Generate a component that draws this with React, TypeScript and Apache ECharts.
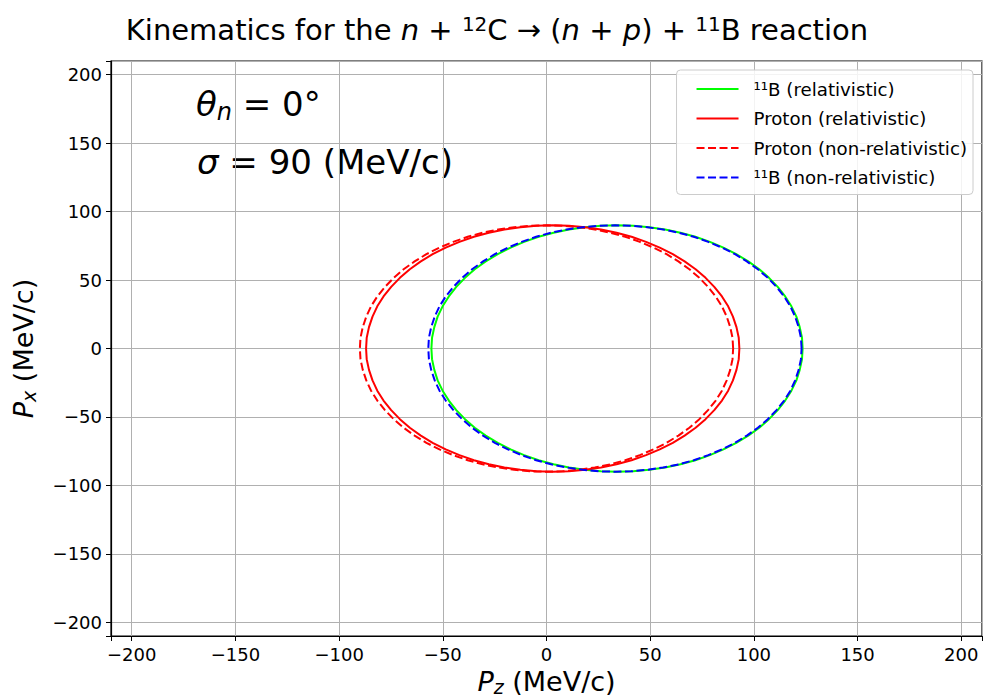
import React, { useEffect, useRef } from "react";
import * as echarts from "echarts";

// Points of each curve, every 5 degrees around the ring,
// starting at the right-most point and going counter-clockwise.
const pxRing = [
  0, 7.8, 15.6, 23.3, 30.8, 38.0, 45, 51.6, 57.9, 63.6, 68.9, 73.7, 77.9, 81.6, 84.6, 86.9, 88.6, 89.7, 90,
  89.7, 88.6, 86.9, 84.6, 81.6, 77.9, 73.7, 68.9, 63.6, 57.9, 51.6, 45, 38.0, 30.8, 23.3, 15.6, 7.8, 0,
  -7.8, -15.6, -23.3, -30.8, -38.0, -45, -51.6, -57.9, -63.6, -68.9, -73.7, -77.9, -81.6, -84.6, -86.9, -88.6, -89.7, -90,
  -89.7, -88.6, -86.9, -84.6, -81.6, -77.9, -73.7, -68.9, -63.6, -57.9, -51.6, -45, -38.0, -30.8, -23.3, -15.6, -7.8, 0,
];
const pzBoronRel = [
  123.5, 123.2, 122.1, 120.5, 118.1, 115.1, 111.5, 107.3, 102.6, 97.3, 91.5, 85.3, 78.8, 71.8, 64.6, 57.2, 49.5, 41.8, 34,
  26.2, 18.5, 10.8, 3.4, -3.8, -10.8, -17.3, -23.5, -29.3, -34.6, -39.3, -43.5, -47.1, -50.1, -52.5, -54.1, -55.2, -55.5,
  -55.2, -54.1, -52.5, -50.1, -47.1, -43.5, -39.3, -34.6, -29.3, -23.5, -17.3, -10.8, -3.8, 3.4, 10.8, 18.5, 26.2, 34,
  41.8, 49.5, 57.2, 64.6, 71.8, 78.8, 85.3, 91.5, 97.3, 102.6, 107.3, 111.5, 115.1, 118.1, 120.5, 122.1, 123.2, 123.5,
];
const pzProtonRel = [
  93, 92.7, 91.6, 89.9, 87.6, 84.6, 80.9, 76.7, 71.9, 66.6, 60.9, 54.6, 48, 41.0, 33.8, 26.3, 18.6, 10.8, 3,
  -4.8, -12.6, -20.3, -27.8, -35.0, -42, -48.6, -54.9, -60.6, -65.9, -70.7, -74.9, -78.6, -81.6, -83.9, -85.6, -86.7, -87,
  -86.7, -85.6, -83.9, -81.6, -78.6, -74.9, -70.7, -65.9, -60.6, -54.9, -48.6, -42, -35.0, -27.8, -20.3, -12.6, -4.8, 3,
  10.8, 18.6, 26.3, 33.8, 41.0, 48, 54.6, 60.9, 66.6, 71.9, 76.7, 80.9, 84.6, 87.6, 89.9, 91.6, 92.7, 93,
];
const pzProtonNonRel = [
  90, 89.7, 88.6, 86.9, 84.6, 81.6, 77.9, 73.7, 68.9, 63.6, 57.9, 51.6, 45, 38.0, 30.8, 23.3, 15.6, 7.8, 0,
  -7.8, -15.6, -23.3, -30.8, -38.0, -45, -51.6, -57.9, -63.6, -68.9, -73.7, -77.9, -81.6, -84.6, -86.9, -88.6, -89.7, -90,
  -89.7, -88.6, -86.9, -84.6, -81.6, -77.9, -73.7, -68.9, -63.6, -57.9, -51.6, -45, -38.0, -30.8, -23.3, -15.6, -7.8, 0,
  7.8, 15.6, 23.3, 30.8, 38.0, 45, 51.6, 57.9, 63.6, 68.9, 73.7, 77.9, 81.6, 84.6, 86.9, 88.6, 89.7, 90,
];
const pzBoronNonRel = [
  123, 122.7, 121.6, 119.9, 117.6, 114.6, 110.9, 106.7, 101.9, 96.6, 90.9, 84.6, 78, 71.0, 63.8, 56.3, 48.6, 40.8, 33,
  25.2, 17.4, 9.7, 2.2, -5.0, -12, -18.6, -24.9, -30.6, -35.9, -40.7, -44.9, -48.6, -51.6, -53.9, -55.6, -56.7, -57,
  -56.7, -55.6, -53.9, -51.6, -48.6, -44.9, -40.7, -35.9, -30.6, -24.9, -18.6, -12, -5.0, 2.2, 9.7, 17.4, 25.2, 33,
  40.8, 48.6, 56.3, 63.8, 71.0, 78, 84.6, 90.9, 96.6, 101.9, 106.7, 110.9, 114.6, 117.6, 119.9, 121.6, 122.7, 123,
];

const seriesNames = [
  "¹¹B (relativistic)",
  "Proton (relativistic)",
  "Proton (non-relativistic)",
  "¹¹B (non-relativistic)",
];
const seriesPz = [pzBoronRel, pzProtonRel, pzProtonNonRel, pzBoronNonRel];
const seriesColors = ["#00ff00", "#ff0000", "#ff0000", "#0000ff"];
const seriesDashed = [false, false, true, true];

const axisMin = -210;
const axisMax = 210;
const tickStep = 50;

const FONT = "'DejaVu Sans', sans-serif";

const fmt = (v: number) => {
  if (Math.abs(v % tickStep) > 1e-6) return "";
  return v < 0 ? "\u2212" + Math.abs(v) : String(v);
};

const nameRich = {
  i: { fontSize: 27, fontStyle: "italic", fontFamily: FONT, color: "#000" },
  s: { fontSize: 19, fontStyle: "italic", fontFamily: FONT, color: "#000", padding: [10, 0, 0, 0] },
  r: { fontSize: 27, fontFamily: FONT, color: "#000" },
};

export default function App() {
  const ref = useRef<HTMLDivElement>(null);
  useEffect(() => {
    document.body.style.margin = "0";
    const chart = echarts.init(ref.current!, null, { renderer: "svg" });
    const axisCommon = {
      type: "value" as const,
      min: axisMin,
      max: axisMax,
      splitNumber: 8,
      minInterval: tickStep,
      maxInterval: tickStep,
      axisLine: { show: true, onZero: false, lineStyle: { color: "#000", width: 1.2 } },
      axisTick: { show: true, length: 5, lineStyle: { color: "#000", width: 1 } },
      axisLabel: {
        formatter: fmt,
        color: "#000",
        fontSize: 18,
        fontFamily: FONT,
        margin: 9,
      },
      splitLine: { show: true, lineStyle: { color: "#b0b0b0", width: 1 } },
    };
    chart.setOption({
      animation: false,
      backgroundColor: "#fff",
      grid: {
        left: 111,
        right: 1,
        top: 61,
        bottom: 64,
        show: true,
        borderColor: "#000",
        borderWidth: 1.2,
        backgroundColor: "transparent",
        containLabel: false,
        outerBoundsMode: "none",
      },
      xAxis: {
        ...axisCommon,
        name: "{i|P}{s|z}{r| (MeV/c)}",
        nameLocation: "middle",
        nameGap: 31,
        nameTextStyle: { fontSize: 27, fontFamily: FONT, color: "#000", rich: nameRich },
      },
      yAxis: {
        ...axisCommon,
        name: "{i|P}{s|x}{r| (MeV/c)}",
        nameLocation: "middle",
        nameGap: 73,
        nameRotate: 90,
        nameTextStyle: { fontSize: 27, fontFamily: FONT, color: "#000", rich: nameRich },
      },
      legend: {
        orient: "vertical",
        right: 10,
        top: 70,
        itemWidth: 42,
        itemHeight: 14,
        itemGap: 11.5,
        padding: [10, 6, 8, 19],
        backgroundColor: "rgba(255,255,255,0.85)",
        borderColor: "#cccccc",
        borderWidth: 1,
        borderRadius: 4,
        selectedMode: false,
        itemStyle: { opacity: 0, color: "transparent", borderWidth: 0 },
        textStyle: { fontSize: 18.2, lineHeight: 18, fontFamily: FONT, color: "#000", padding: [0, 0, 0, 10] },
        data: seriesNames,
      },
      graphic: [
        {
          type: "text",
          style: {
            text:
              "{r|Kinematics for the }{i|n}{r| + }{s|12}{r|C → (}{i|n}{r| + }{i|p}{r|) + }{s|11}{r|B reaction}",
            x: 497,
            y: 30,
            align: "center",
            verticalAlign: "middle",
            fontSize: 29,
            fontFamily: FONT,
            fill: "#000",
            rich: {
              r: { fontSize: 29, fontFamily: FONT, fill: "#000" },
              i: { fontSize: 29, fontFamily: FONT, fontStyle: "italic", fill: "#000" },
              s: { fontSize: 20, fontFamily: FONT, fill: "#000", padding: [0, 0, 13, 0] },
            },
          },
        },
        {
          type: "text",
          style: {
            text: "{t|θ}{s|n}{r| = 0°}",
            x: 196,
            y: 104,
            verticalAlign: "middle",
            fontSize: 34,
            fontFamily: FONT,
            fill: "#000",
            rich: {
              t: { fontSize: 34, fontFamily: FONT, fontStyle: "italic", fill: "#000" },
              s: { fontSize: 24, fontFamily: FONT, fontStyle: "italic", fill: "#000", padding: [16, 0, 0, 0] },
              r: { fontSize: 34, fontFamily: FONT, fill: "#000" },
            },
          },
        },
        {
          type: "text",
          style: {
            text: "{t|σ}{r| = 90 (MeV/c)}",
            x: 197,
            y: 162,
            verticalAlign: "middle",
            fontSize: 34,
            fontFamily: FONT,
            fill: "#000",
            rich: {
              t: { fontSize: 34, fontFamily: FONT, fontStyle: "italic", fill: "#000" },
              r: { fontSize: 34, fontFamily: FONT, fill: "#000" },
            },
          },
        },
      ],
      series: seriesNames.map((name, k) => ({
        name,
        type: "line",
        data: seriesPz[k].map((z, j) => [z, pxRing[j]]),
        showSymbol: false,
        symbol: "none",
        smooth: false,
        z: 2 + k,
        lineStyle: {
          color: seriesColors[k],
          width: 2,
          type: seriesDashed[k] ? [8, 3.5] : "solid",
        },
        itemStyle: { color: seriesColors[k] },
      })),
    });
    return () => chart.dispose();
  }, []);
  return (
    <div
      ref={ref}
      style={{ position: "absolute", left: 0, top: 0, width: 983, height: 700 }}
    />
  );
}
